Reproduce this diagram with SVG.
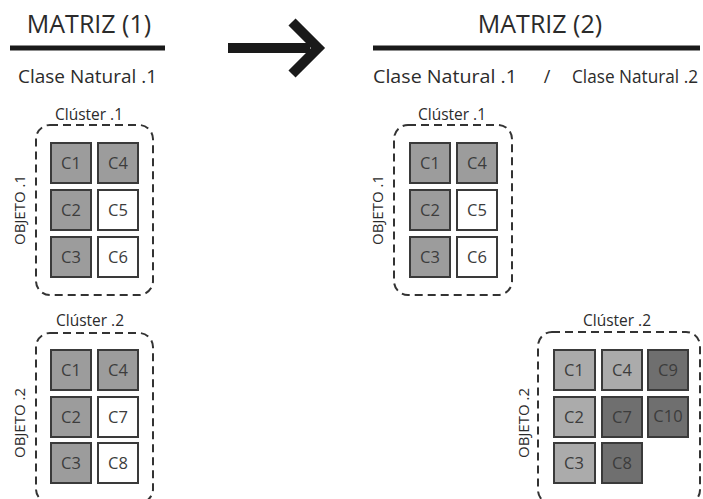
<svg xmlns="http://www.w3.org/2000/svg" width="703" height="499" viewBox="0 0 703 499">
<style>
text{font-family:"Open Sans","Liberation Sans",sans-serif;fill:#2b2b2b}
.title{font-size:25px;text-anchor:middle}
.sub{font-size:18px}
.cl{font-size:15.5px;text-anchor:middle}
.ob{font-size:15px;text-anchor:middle}
.cell{stroke:#3a3a3a;stroke-width:2}
.g{fill:#9c9c9c}
.w{fill:#ffffff}
.lg{fill:#ababab}
.dg{fill:#6f6f6f}
.ct{font-size:16.5px;text-anchor:middle;fill:#3c3c3c}
.box{fill:none;stroke:#333;stroke-width:2;stroke-dasharray:8 5}
.rule{stroke:#1a1a1a;stroke-width:5}
</style>
<rect width="703" height="499" fill="#fff"/>
<g id="header-left">
<text class="title" x="89" y="33">MATRIZ (1)</text>
<line class="rule" x1="10" y1="48" x2="165" y2="48"/>
<text class="sub" x="18" y="83" textLength="139" lengthAdjust="spacingAndGlyphs">Clase Natural .1</text>
</g>
<g id="connectors">
<path d="M228 48 H310" stroke="#1a1a1a" stroke-width="10" fill="none"/>
<path d="M292 22 L318 48 L292 74" stroke="#1a1a1a" stroke-width="10" fill="none" stroke-linejoin="miter"/>
</g>
<g id="header-right">
<text class="title" x="540" y="33">MATRIZ (2)</text>
<line class="rule" x1="373" y1="48" x2="700" y2="48"/>
<text class="sub" x="373" y="83" textLength="144" lengthAdjust="spacingAndGlyphs">Clase Natural .1</text>
<text class="sub" x="547" y="83" text-anchor="middle">/</text>
<text class="sub" x="572" y="83" textLength="126" lengthAdjust="spacingAndGlyphs">Clase Natural .2</text>
</g>
<g id="left-cluster1">
<text class="cl" x="89" y="120">Clúster .1</text>
<rect class="box" x="36" y="125" width="117" height="170" rx="14"/>
<text class="ob" transform="translate(25,210) rotate(-90)">OBJETO .1</text>
<rect class="cell g" x="51" y="143" width="40" height="40"/><text class="ct" x="71" y="169">C1</text>
<rect class="cell g" x="98" y="143" width="40" height="40"/><text class="ct" x="118" y="169">C4</text>
<rect class="cell g" x="51" y="190" width="40" height="40"/><text class="ct" x="71" y="216">C2</text>
<rect class="cell w" x="98" y="190" width="40" height="40"/><text class="ct" x="118" y="216">C5</text>
<rect class="cell g" x="51" y="237" width="40" height="40"/><text class="ct" x="71" y="263">C3</text>
<rect class="cell w" x="98" y="237" width="40" height="40"/><text class="ct" x="118" y="263">C6</text>
</g>
<g id="left-cluster2">
<text class="cl" x="90" y="326">Clúster .2</text>
<rect class="box" x="36" y="333" width="117" height="170" rx="14"/>
<text class="ob" transform="translate(25,423) rotate(-90)">OBJETO .2</text>
<rect class="cell g" x="51" y="350" width="40" height="40"/><text class="ct" x="71" y="376">C1</text>
<rect class="cell g" x="98" y="350" width="40" height="40"/><text class="ct" x="118" y="376">C4</text>
<rect class="cell g" x="51" y="397" width="40" height="40"/><text class="ct" x="71" y="423">C2</text>
<rect class="cell w" x="98" y="397" width="40" height="40"/><text class="ct" x="118" y="423">C7</text>
<rect class="cell g" x="51" y="443" width="40" height="40"/><text class="ct" x="71" y="469">C3</text>
<rect class="cell w" x="98" y="443" width="40" height="40"/><text class="ct" x="118" y="469">C8</text>
</g>
<g id="right-cluster1">
<text class="cl" x="452" y="120">Clúster .1</text>
<rect class="box" x="394" y="125" width="118" height="170" rx="14"/>
<text class="ob" transform="translate(383,210) rotate(-90)">OBJETO .1</text>
<rect class="cell g" x="410" y="143" width="40" height="40"/><text class="ct" x="430" y="169">C1</text>
<rect class="cell g" x="457" y="143" width="40" height="40"/><text class="ct" x="477" y="169">C4</text>
<rect class="cell g" x="410" y="190" width="40" height="40"/><text class="ct" x="430" y="216">C2</text>
<rect class="cell w" x="457" y="190" width="40" height="40"/><text class="ct" x="477" y="216">C5</text>
<rect class="cell g" x="410" y="237" width="40" height="40"/><text class="ct" x="430" y="263">C3</text>
<rect class="cell w" x="457" y="237" width="40" height="40"/><text class="ct" x="477" y="263">C6</text>
</g>
<g id="right-cluster2">
<text class="cl" x="617" y="326">Clúster .2</text>
<rect class="box" x="538" y="332" width="162" height="172" rx="14"/>
<text class="ob" transform="translate(529,423) rotate(-90)">OBJETO .2</text>
<rect class="cell lg" x="554" y="350" width="41" height="40"/><text class="ct" x="574" y="376">C1</text>
<rect class="cell lg" x="602" y="350" width="40" height="40"/><text class="ct" x="622" y="376">C4</text>
<rect class="cell dg" x="648" y="350" width="40" height="40"/><text class="ct" x="668" y="376">C9</text>
<rect class="cell lg" x="554" y="397" width="41" height="40"/><text class="ct" x="574" y="423">C2</text>
<rect class="cell dg" x="602" y="397" width="40" height="40"/><text class="ct" x="622" y="423">C7</text>
<rect class="cell dg" x="648" y="397" width="40" height="40"/><text class="ct" x="668" y="422" font-size="13.5">C10</text>
<rect class="cell lg" x="554" y="443" width="41" height="40"/><text class="ct" x="574" y="469">C3</text>
<rect class="cell dg" x="602" y="443" width="40" height="40"/><text class="ct" x="622" y="469">C8</text>
</g>
</svg>
